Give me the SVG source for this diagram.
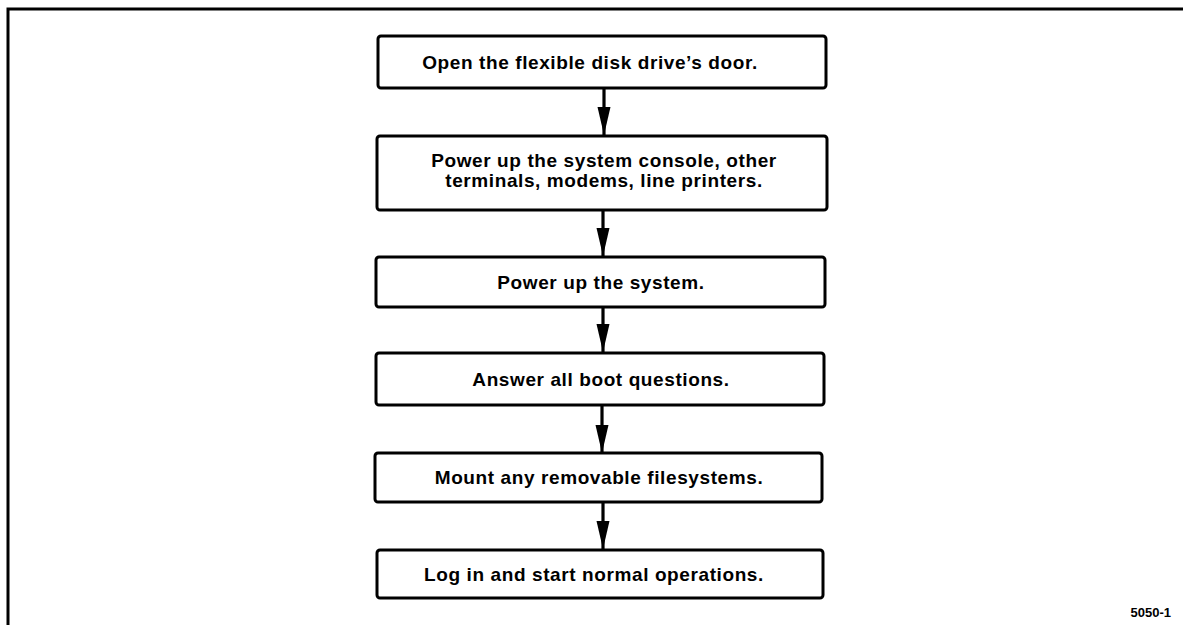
<svg xmlns="http://www.w3.org/2000/svg" width="1183" height="625" viewBox="0 0 1183 625">
<style>
.box{fill:#fff;stroke:#000;stroke-width:3}
.t{font-family:"Liberation Sans",Arial,sans-serif;font-weight:bold;font-size:19px;letter-spacing:0.6px;text-anchor:middle;fill:#000}
.c{stroke:#000;stroke-width:3.2;fill:none}
.frame{stroke:#000;stroke-width:3;fill:none}
</style>
<defs>
<marker id="ah" markerUnits="userSpaceOnUse" markerWidth="28" markerHeight="14" viewBox="0 0 28 14" refX="28" refY="7" orient="auto">
<path d="M0,0.5 L28,7 L0,13.5 Z" fill="#000"/>
</marker>
</defs>
<path class="frame" d="M8,625 L8,9 L1183,9"/>
<g id="connectors">
<line class="c" x1="604" y1="88" x2="604" y2="135" marker-end="url(#ah)"/>
<line class="c" x1="603" y1="210" x2="603" y2="256" marker-end="url(#ah)"/>
<line class="c" x1="603" y1="307" x2="603" y2="352" marker-end="url(#ah)"/>
<line class="c" x1="602" y1="405" x2="602" y2="453" marker-end="url(#ah)"/>
<line class="c" x1="603" y1="502" x2="603" y2="549" marker-end="url(#ah)"/>
</g>
<g id="n1"><rect class="box" x="378" y="36" width="448" height="52" rx="3"/><text class="t" x="590" y="69">Open the flexible disk drive’s door.</text></g>
<g id="n2"><rect class="box" x="377" y="136" width="450" height="74" rx="3"/><text class="t" x="604" y="167">Power up the system console, other</text><text class="t" x="604" y="187">terminals, modems, line printers.</text></g>
<g id="n3"><rect class="box" x="376" y="257" width="449" height="50" rx="3"/><text class="t" x="601" y="289">Power up the system.</text></g>
<g id="n4"><rect class="box" x="376" y="353" width="448" height="52" rx="3"/><text class="t" x="601" y="386">Answer all boot questions.</text></g>
<g id="n5"><rect class="box" x="375" y="453" width="447" height="49" rx="3"/><text class="t" x="599" y="484">Mount any removable filesystems.</text></g>
<g id="n6"><rect class="box" x="377" y="550" width="446" height="48" rx="3"/><text class="t" x="594" y="581">Log in and start normal operations.</text></g>
<text x="1171" y="617" style="font-family:'Liberation Sans',Arial,sans-serif;font-weight:bold;font-size:13px;text-anchor:end">5050-1</text>
</svg>
